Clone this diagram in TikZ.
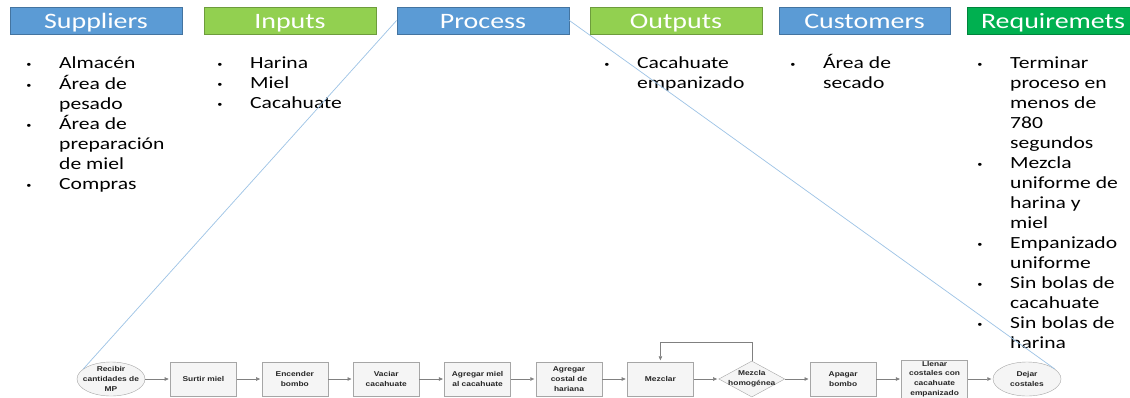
\documentclass[tikz,border=0pt]{standalone}
\usepackage{fontspec}
\setmainfont{Carlito}[FakeStretch=1.27]
\newfontfamily\flowfont{Liberation Sans}[FakeStretch=1.2]
\usepackage{xcolor}
\usetikzlibrary{
  shapes.geometric,
  arrows.meta,
  positioning
}
\definecolor{sipBlue}{RGB}{91,155,213}
\definecolor{sipLime}{RGB}{146,208,80}
\definecolor{sipGreen}{RGB}{0,176,80}
\definecolor{sipLine}{RGB}{157,195,230}
\definecolor{sipGray}{RGB}{128,128,128}
\newcommand{\bul}{\llap{{\flowfont\fontsize{11}{11}\selectfont\textbullet}\hspace{28pt}}}

\begin{document}
\begin{tikzpicture}[
  x=1pt, y=-1pt,
  node distance=25pt,
  %% SIPOC column header (1-arg: colour)
  hdr/.style={
    draw=#1!75!black,
    fill=#1,
    line width=0.8pt,
    minimum width=172pt,
    minimum height=27pt,
    inner sep=0pt,
    text height=15pt,
    text depth=0pt,
    text=white,
    font=\fontsize{22}{26}\selectfont
  },
  %% Bullet list below a header
  blist/.style={
    anchor=north west,
    align=left,
    inner sep=0pt,
    font=\fontsize{17}{20}\selectfont
  },
  %% Process step
  stepbox/.style={
    draw=gray!70,
    fill=gray!8,
    minimum width=66pt,
    minimum height=34pt,
    text width=62pt,
    align=center,
    inner sep=1pt,
    text=black!85,
    font=\flowfont\bfseries\fontsize{7}{9.8}\selectfont
  },
  %% Start / end of the process
  startend/.style={
    ellipse,
    draw=gray!70,
    fill=gray!8,
    minimum width=68pt,
    minimum height=34pt,
    inner sep=-5pt,
    align=center,
    text=black!85,
    font=\flowfont\bfseries\fontsize{7}{9.8}\selectfont
  },
  %% Decision
  decision/.style={
    diamond,
    aspect=2,
    draw=gray!70,
    fill=gray!8,
    minimum width=66pt,
    minimum height=36pt,
    inner sep=-4pt,
    align=center,
    text=black!85,
    font=\flowfont\bfseries\fontsize{7}{9.8}\selectfont
  },
  flow/.style={-{Triangle[length=4pt,width=3.5pt]}, draw=sipGray, line width=0.6pt, shorten >=1.5pt},
  zoomline/.style={sipLine, line width=0.7pt}
]

\useasboundingbox (0,0) rectangle (1130,397);
\clip (0,0) rectangle (1130,397);
\fill[white] (0,0) rectangle (1130,397);

%% ---- SIPOC headers ----
\node[hdr=sipBlue]  (supl) at (96,20.5)  {Suppliers};
\node[hdr=sipLime]  (inp)  at (290,20.5) {Inputs};
\node[hdr=sipBlue]  (proc) at (483,20.5) {Process};
\node[hdr=sipLime]  (outp) at (676,20.5) {Outputs};
\node[hdr=sipBlue, minimum width=171pt] (cust) at (864.5,20.5) {Customers};
\node[hdr=sipGreen] (req)  at (1053,20.5) {Requiremets};

%% ---- Lists ----
\node[blist] (supl-l) at (59,54)
  {\strut\bul Almacén\\ \bul Área de\\ pesado\\ \bul Área de\\ preparación\\
   de miel\\ \bul Compras};
\node[blist] (inp-l) at (250,54)
  {\strut\bul Harina\\ \bul Miel\\ \bul Cacahuate};
\node[blist] (outp-l) at (637,54)
  {\strut\bul Cacahuate\\ empanizado};
\node[blist] (cust-l) at (823,54)
  {\strut\bul Área de\\ secado};
\node[blist] (req-l) at (1010,54)
  {\strut\bul Terminar\\ proceso en\\ menos de\\ 780\\ segundos\\
   \bul Mezcla\\ uniforme de\\ harina y\\ miel\\
   \bul Empanizado\\ uniforme\\
   \bul Sin bolas de\\ cacahuate\\
   \bul Sin bolas de\\ harina};

%% ---- Process flow (horizontal chain) ----
\node[startend] (recibir) at (111,379) {Recibir\\cantidades de\\MP};
\node[stepbox, right=of recibir]  (surtir)   {Surtir miel};
\node[stepbox, right=of surtir]   (encender) {Encender\\bombo};
\node[stepbox, right=of encender] (vaciar)   {Vaciar\\cacahuate};
\node[stepbox, right=of vaciar]   (miel)     {Agregar miel\\al cacahuate};
\node[stepbox, right=of miel]     (costal)   {Agregar\\costal de\\hariana};
\node[stepbox, right=of costal]   (mezclar)  {Mezclar};
\node[decision, right=of mezclar] (homog)    {Mezcla\\homogénea};
\node[stepbox, right=of homog]    (apagar)   {Apagar\\bombo};
\node[stepbox, right=of apagar]   (llenar)   {Llenar\\costales con\\cacahuate\\empanizado};
\node[startend, right=of llenar]  (dejar)    {Dejar\\costales};

%% ---- Flow arrows ----
\draw[flow] (recibir)  -- (surtir);
\draw[flow] (surtir)   -- (encender);
\draw[flow] (encender) -- (vaciar);
\draw[flow] (vaciar)   -- (miel);
\draw[flow] (miel)     -- (costal);
\draw[flow] (costal)   -- (mezclar);
\draw[flow] (mezclar)  -- (homog);
\draw[flow] (homog)    -- (apagar);
\draw[flow] (apagar)   -- (llenar);
\draw[flow] (llenar)   -- (dejar);

%% ---- Loop back (not homogeneous) ----
\draw[flow] (homog.north) -- ++(0,-19) -| (mezclar.north);

%% ---- Zoom lines from Process ----
\draw[zoomline] (proc.west) -- (recibir.160);
\draw[zoomline] (proc.east) -- (dejar.20);

\end{tikzpicture}
\end{document}
